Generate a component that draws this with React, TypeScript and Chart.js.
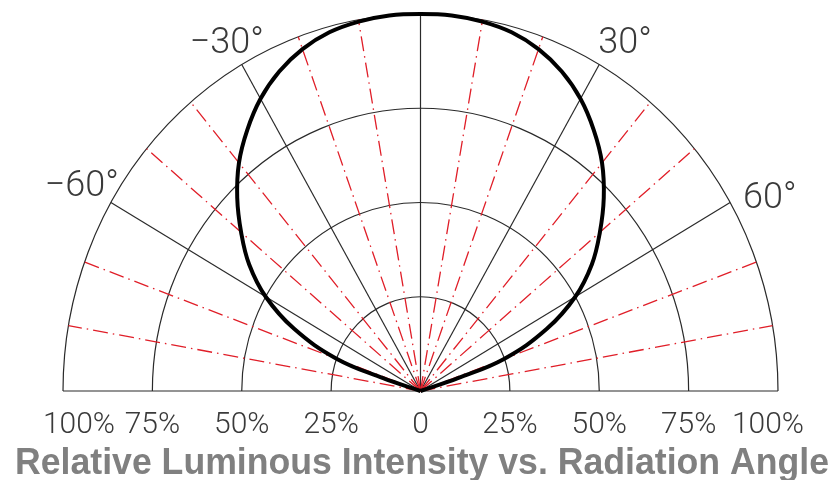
import React, { useEffect, useRef } from "react";
import { Chart, registerables } from "chart.js";

Chart.register(...registerables);

// ---- data ----
const curveAngles = [-74, -72, -70, -65, -60, -55, -50, -45, -40, -35, -30, -25, -20, -15, -10, -5, 0, 5, 10, 15, 20, 25, 30, 35, 40, 45, 50, 55, 60, 65, 70, 72, 74];
const curveIntensity = [0, 11, 25, 39, 50, 58.5, 65.5, 72.5, 79, 84.5, 89.5, 93.5, 96.5, 98.5, 99.5, 100, 100, 100, 99.5, 98.5, 96.5, 93.5, 89.5, 84.5, 79, 72.5, 65.5, 58.5, 50, 39, 25, 11, 0];
const ringValues = [25, 50, 75, 100];
const majorAngles = [-60, -30, 0, 30, 60];
const minorAngles = [-80, -70, -50, -40, -20, -10, 10, 20, 40, 50, 70, 80];
const tickValues = [-100, -75, -50, -25, 0, 25, 50, 75, 100];
const tickLabels = ["100%", "75%", "50%", "25%", "0", "25%", "50%", "75%", "100%"];
const angleLabelAngles = [-60, -30, 30, 60];
const angleLabels = ["\u221260\u00b0", "\u221230\u00b0", "30\u00b0", "60\u00b0"];
const titleText = "Relative Luminous Intensity vs. Radiation Angle";

const toXY = (deg: number, r: number) => {
  const a = (deg * Math.PI) / 180;
  return { x: r * Math.sin(a), y: r * Math.cos(a) };
};

const polarGrid = {
  id: "polarGrid",
  beforeDatasetsDraw(chart: any) {
    const { ctx, scales } = chart;
    const xs = scales.x;
    const ys = scales.y;
    const px = (v: number) => xs.getPixelForValue(v);
    const py = (v: number) => ys.getPixelForValue(v);
    const cx = px(0);
    const cy = py(0);
    ctx.save();
    // rings
    ctx.strokeStyle = "#2a2a2a";
    ctx.lineWidth = 1.2;
    ringValues.forEach((r) => {
      const rx = px(r) - cx;
      const ry = cy - py(r);
      ctx.beginPath();
      ctx.ellipse(cx, cy, rx, ry, 0, Math.PI, 2 * Math.PI);
      ctx.stroke();
    });
    // baseline
    ctx.beginPath();
    ctx.moveTo(px(-100), cy);
    ctx.lineTo(px(100), cy);
    ctx.stroke();
    // major spokes
    majorAngles.forEach((d) => {
      const p = toXY(d, 100);
      ctx.beginPath();
      ctx.moveTo(cx, cy);
      ctx.lineTo(px(p.x), py(p.y));
      ctx.stroke();
    });
    // minor spokes (red dash-dot)
    ctx.strokeStyle = "#e01e28";
    ctx.lineWidth = 1.3;
    ctx.setLineDash([15, 5, 1.5, 5]);
    minorAngles.forEach((d) => {
      const p = toXY(d, 100);
      ctx.beginPath();
      ctx.moveTo(cx, cy);
      ctx.lineTo(px(p.x), py(p.y));
      ctx.stroke();
    });
    ctx.restore();
  },
  afterDraw(chart: any) {
    const { ctx, scales } = chart;
    const xs = scales.x;
    const ys = scales.y;
    const px = (v: number) => xs.getPixelForValue(v);
    const py = (v: number) => ys.getPixelForValue(v);
    const cy = py(0);
    ctx.save();
    // tick labels
    ctx.fillStyle = "#3a3a3a";
    ctx.font = '300 30px Roboto, "DejaVu Sans", sans-serif';
    ctx.textAlign = "center";
    ctx.textBaseline = "alphabetic";
    tickValues.forEach((v, i) => {
      let x = px(v);
      if (v === -100) x += 16;
      if (v === 100) x -= 10;
      ctx.fillText(tickLabels[i], x, cy + 42);
    });
    // angle labels
    ctx.font = '300 36px Roboto, "DejaVu Sans", sans-serif';
    const offs = [
      { dx: 8, dy: -7, align: "right" },
      { dx: 22, dy: -12, align: "right" },
      { dx: -1, dy: -12, align: "left" },
      { dx: 13, dy: 5, align: "left" },
    ];
    angleLabelAngles.forEach((d, i) => {
      const p = toXY(d, 100);
      const o = offs[i];
      ctx.textAlign = o.align;
      ctx.fillText(angleLabels[i], px(p.x) + o.dx, py(p.y) + o.dy);
    });
    // title
    ctx.fillStyle = "#808080";
    ctx.font = 'bold 36px "Liberation Sans", Arial, sans-serif';
    ctx.textAlign = "left";
    const w = ctx.measureText(titleText).width;
    const target = 814;
    ctx.translate(15, 474);
    ctx.scale(target / w, 1);
    ctx.fillText(titleText, 0, 0);
    ctx.restore();
  },
};

export default function App() {
  const ref = useRef<HTMLCanvasElement | null>(null);
  useEffect(() => {
    document.body.style.margin = "0";
    const canvas = ref.current;
    if (!canvas) return;
    const data = curveAngles.map((a, i) => toXY(a, curveIntensity[i]));
    const chart = new Chart(canvas, {
      type: "scatter",
      data: {
        datasets: [
          {
            data,
            showLine: true,
            borderColor: "#000",
            borderWidth: 4,
            pointRadius: 0,
            tension: 0.4,
            fill: false,
            clip: false,
          } as any,
        ],
      },
      options: {
        responsive: false,
        animation: false,
        devicePixelRatio: 1,
        layout: { padding: { left: 63, right: 56, top: 14, bottom: 89 } },
        plugins: { legend: { display: false }, tooltip: { enabled: false }, title: { display: false } },
        scales: {
          x: { type: "linear", min: -100, max: 100, display: false },
          y: { type: "linear", min: 0, max: 100, display: false },
        },
      },
      plugins: [polarGrid],
    });
    return () => chart.destroy();
  }, []);
  return (
    <div style={{ width: 834, height: 480, background: "#fff" }}>
      <canvas ref={ref} width={834} height={480} style={{ display: "block" }} />
    </div>
  );
}
